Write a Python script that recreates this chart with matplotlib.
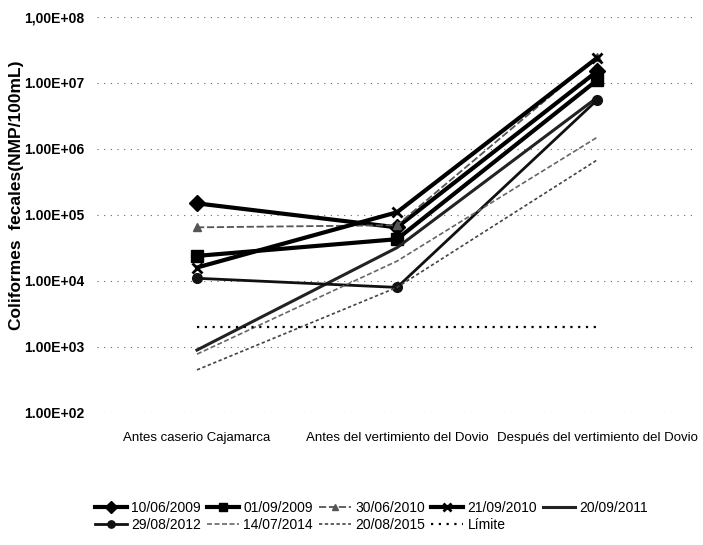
import matplotlib
matplotlib.use("Agg")
import matplotlib.pyplot as plt
from matplotlib.ticker import FixedLocator, NullLocator

categories = ["Antes caserio Cajamarca", "Antes del vertimiento del Dovio", "Después del vertimiento del Dovio"]

s_10_06_2009 = [1.5e5, 6.5e4, 1.5e7]
s_01_09_2009 = [2.4e4, 4.3e4, 1.1e7]
s_30_06_2010 = [6.5e4, 7.0e4, 2.5e7]
s_21_09_2010 = [1.6e4, 1.1e5, 2.4e7]
s_20_09_2011 = [9.0e2, 3.2e4, 6.0e6]
s_29_08_2012 = [1.1e4, 8.0e3, 5.5e6]
s_14_07_2014 = [7.8e2, 2.0e4, 1.5e6]
s_20_08_2015 = [4.5e2, 8.0e3, 6.8e5]
limite = [2.0e3, 2.0e3, 2.0e3]

series_labels = ["10/06/2009", "01/09/2009", "30/06/2010", "21/09/2010", "20/09/2011",
                 "29/08/2012", "14/07/2014", "20/08/2015", "Límite"]
ytick_vals = [1e2, 1e3, 1e4, 1e5, 1e6, 1e7, 1e8]
ytick_labels = ["1.00E+02", "1.00E+03", "1.00E+04", "1.00E+05", "1.00E+06", "1.00E+07", "1,00E+08"]

fam = ["Liberation Sans", "DejaVu Sans"]

fig = plt.figure(figsize=(7.03, 5.45), dpi=100)
ax = fig.add_axes([97/703, 1-413/545, 600/703, 396/545])

x = list(range(len(categories)))
data = [s_10_06_2009, s_01_09_2009, s_30_06_2010, s_21_09_2010, s_20_09_2011,
        s_29_08_2012, s_14_07_2014, s_20_08_2015, limite]
styles = [
    dict(color="black", lw=3, marker="D", ms=8),
    dict(color="black", lw=3, marker="s", ms=8),
    dict(color="#555555", lw=1.3, ls=(0, (4, 1.5)), marker="^", ms=6),
    dict(color="black", lw=3, marker="x", ms=7, mew=2),
    dict(color="#222222", lw=2.2),
    dict(color="#111111", lw=2, marker="o", ms=7),
    dict(color="#666666", lw=1.2, ls=(0, (3, 1.5))),
    dict(color="#444444", lw=1.2, ls=(0, (2, 1.5))),
    dict(color="black", lw=1.6, ls=(0, (1, 2.5))),
]
handles = []
for d, st, lab in zip(data, styles, series_labels):
    h, = ax.plot(x, d, label=lab, **st)
    handles.append(h)

ax.set_yscale("log")
ax.set_ylim(1e2, 1e8)
ax.set_xlim(-0.5, 2.5)
ax.yaxis.set_major_locator(FixedLocator(ytick_vals))
ax.yaxis.set_minor_locator(NullLocator())
ax.set_yticklabels(ytick_labels, fontfamily=fam, fontsize=10, fontweight="bold")
ax.set_xticks(x)
ax.set_xticklabels(categories, fontfamily=fam, fontsize=9.5)
ax.tick_params(axis="both", length=0)
ax.tick_params(axis="y", pad=9)
ax.tick_params(axis="x", pad=14)
for sp in ax.spines.values():
    sp.set_visible(False)
ax.grid(axis="y", which="major", color="#666666", lw=0.8, ls=(0, (1, 5)))
ax.set_axisbelow(True)

ax.set_ylabel("Coliformes  fecales(NMP/100mL)", fontfamily=fam,
              fontsize=12.5, fontweight="bold")
ax.yaxis.set_label_coords(-0.122, 0.55)

order = [0, 5, 1, 6, 2, 7, 3, 8, 4]
leg = fig.legend([handles[i] for i in order], [series_labels[i] for i in order],
                 ncol=5, loc="upper left", bbox_to_anchor=(88/703, 1-494/545),
                 frameon=False, prop=dict(family=fam, size=10),
                 handlelength=2.3, handletextpad=0.3, columnspacing=0.45,
                 labelspacing=0.2, borderpad=0, markerscale=0.75)

fig.savefig("out.png", dpi=100)
